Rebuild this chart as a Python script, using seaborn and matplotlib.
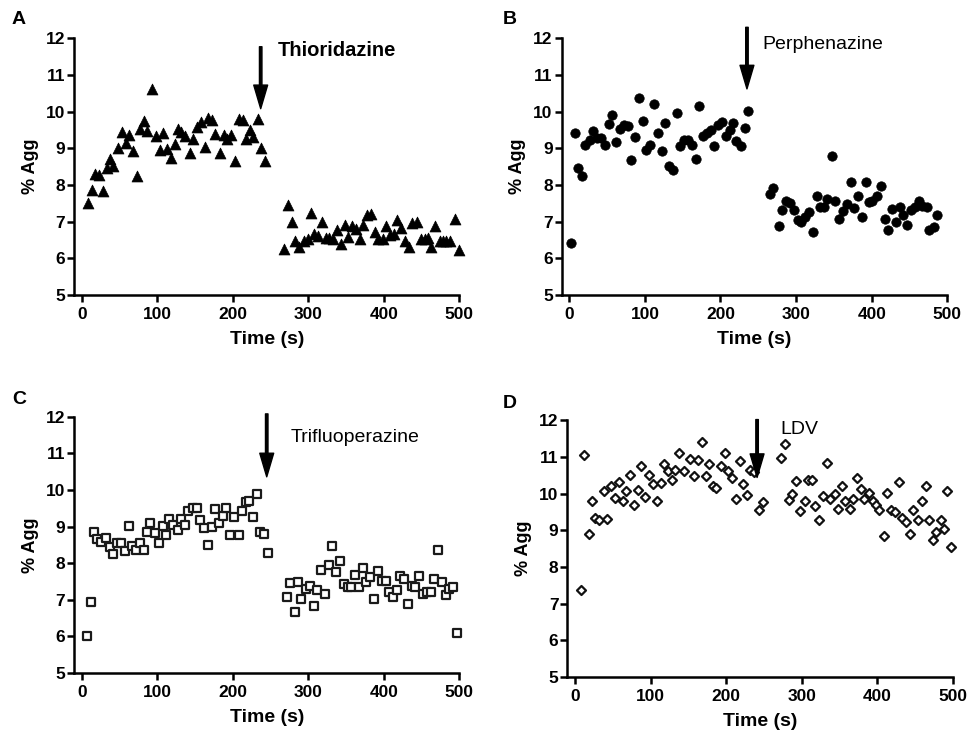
import matplotlib
matplotlib.use("Agg")
import matplotlib.pyplot as plt
import seaborn as sns

# --- data -----------------------------------------------------------------
a_time = [8, 13, 18, 23, 28, 33, 38, 42, 48, 53, 58, 63, 68, 73, 77, 83, 87, 93,
          98, 103, 108, 113, 118, 123, 127, 132, 137, 143, 148, 152, 158, 163,
          167, 173, 177, 183, 188, 193, 198, 203, 208, 213, 218, 223, 227, 234,
          238, 243,
          268, 273, 278, 283, 288, 294, 299, 303, 308, 313, 318, 324, 328, 333,
          338, 343, 348, 353, 358, 363, 368, 373, 378, 383, 388, 393, 399, 403,
          408, 413, 418, 423, 428, 433, 438, 444, 449, 454, 458, 463, 468, 474,
          479, 483, 488, 494, 499]
a_agg = [7.51, 7.85, 8.29, 8.28, 7.83, 8.47, 8.72, 8.52, 9.02, 9.45, 9.15, 9.37,
         8.93, 8.25, 9.54, 9.75, 9.47, 10.63, 9.34, 8.95, 9.43, 8.99, 8.73, 9.13,
         9.53, 9.45, 9.33, 8.87, 9.25, 9.58, 9.71, 9.04, 9.84, 9.76, 9.40, 8.88,
         9.35, 9.26, 9.35, 8.65, 9.81, 9.78, 9.25, 9.49, 9.31, 9.81, 9.00, 8.65,
         6.26, 7.46, 6.98, 6.48, 6.30, 6.46, 6.52, 7.23, 6.67, 6.61, 6.99, 6.55,
         6.55, 6.53, 6.78, 6.39, 6.91, 6.57, 6.87, 6.80, 6.53, 6.90, 7.19, 7.20,
         6.71, 6.53, 6.53, 6.89, 6.64, 6.66, 7.05, 6.82, 6.48, 6.32, 6.96, 7.00,
         6.52, 6.52, 6.55, 6.30, 6.87, 6.46, 6.48, 6.48, 6.46, 7.07, 6.23]

b_time = [2, 7, 12, 17, 21, 27, 32, 37, 42, 47, 52, 57, 62, 67, 72, 78, 82, 87,
          92, 97, 102, 107, 112, 117, 123, 127, 132, 137, 142, 147, 152, 157,
          162, 167, 172, 177, 182, 187, 192, 197, 202, 207, 212, 217, 221, 227,
          232, 237,
          266, 270, 277, 282, 287, 292, 297, 302, 307, 312, 317, 322, 327, 332,
          337, 341, 347, 352, 357, 362, 367, 372, 377, 382, 387, 392, 396, 401,
          407, 412, 417, 422, 427, 432, 437, 442, 447, 452, 457, 462, 467, 473,
          476, 482, 487]
b_agg = [6.42, 9.43, 8.45, 8.25, 9.08, 9.22, 9.47, 9.29, 9.29, 9.10, 9.65, 9.90,
         9.17, 9.52, 9.63, 9.60, 8.69, 9.31, 10.37, 9.74, 8.95, 9.08, 10.22, 9.43,
         8.92, 9.69, 8.51, 8.42, 9.95, 9.06, 9.22, 9.22, 9.08, 8.72, 10.15, 9.33,
         9.42, 9.51, 9.05, 9.63, 9.72, 9.33, 9.51, 9.69, 9.20, 9.05, 9.55, 10.02,
         7.76, 7.91, 6.87, 7.32, 7.55, 7.52, 7.32, 7.05, 7.00, 7.12, 7.26, 6.73,
         7.70, 7.39, 7.39, 7.61, 8.80, 7.57, 7.08, 7.29, 7.49, 8.08, 7.37, 7.69,
         7.12, 8.08, 7.53, 7.55, 7.69, 7.96, 7.08, 6.78, 7.34, 6.99, 7.39, 7.18,
         6.91, 7.32, 7.41, 7.55, 7.43, 7.41, 6.76, 6.85, 7.18]

c_time = [7, 12, 16, 20, 26, 32, 37, 42, 47, 52, 57, 62, 66, 72, 77, 83, 86, 91,
          97, 102, 107, 112, 116, 121, 127, 131, 137, 141, 147, 152, 157, 162,
          167, 173, 177, 182, 187, 191, 197, 201, 208, 212, 217, 222, 227, 232,
          236, 242, 247,
          272, 276, 282, 287, 291, 297, 302, 307, 312, 317, 322, 327, 332, 337,
          342, 347, 352, 356, 362, 367, 372, 377, 382, 387, 392, 397, 403, 407,
          412, 417, 422, 427, 432, 437, 442, 447, 452, 457, 462, 467, 472, 477,
          482, 487, 492, 497]
c_agg = [6.00, 6.93, 8.85, 8.65, 8.58, 8.69, 8.44, 8.25, 8.56, 8.56, 8.32, 9.03,
         8.47, 8.36, 8.55, 8.36, 8.86, 9.11, 8.82, 8.56, 9.03, 8.77, 9.20, 9.05,
         8.91, 9.20, 9.05, 9.44, 9.50, 9.50, 9.18, 8.95, 8.50, 9.00, 9.47, 9.09,
         9.30, 9.50, 8.77, 9.25, 8.77, 9.44, 9.68, 9.71, 9.27, 9.88, 8.86, 8.80,
         8.27,
         7.09, 7.46, 6.68, 7.48, 7.03, 7.29, 7.39, 6.82, 7.27, 7.82, 7.17, 7.96,
         8.47, 7.75, 8.07, 7.43, 7.36, 7.34, 7.68, 7.35, 7.86, 7.48, 7.62, 7.03,
         7.80, 7.52, 7.52, 7.20, 7.08, 7.26, 7.64, 7.57, 6.89, 7.37, 7.35, 7.64,
         7.17, 7.20, 7.20, 7.57, 8.35, 7.48, 7.14, 7.29, 7.35, 6.09]

d_time = [8, 12, 18, 23, 27, 32, 38, 43, 48, 53, 58, 63, 68, 73, 78, 83, 88, 93,
          98, 103, 108, 114, 118, 123, 129, 133, 138, 144, 152, 157, 163, 168,
          173, 178, 183, 187, 193, 198, 203, 208, 213, 218, 223, 228, 232, 237,
          243, 249,
          273, 278, 283, 287, 293, 298, 304, 309, 314, 318, 323, 328, 333, 338,
          344, 348, 353, 358, 364, 368, 373, 379, 383, 389, 395, 399, 403, 409,
          413, 418, 423, 429, 433, 438, 443, 448, 454, 459, 464, 469, 474, 478,
          484, 489, 493, 498]
d_agg = [7.38, 11.05, 8.90, 9.79, 9.34, 9.29, 10.08, 9.32, 10.20, 9.88, 10.32,
         9.79, 10.06, 10.52, 9.70, 10.11, 10.76, 9.91, 10.50, 10.25, 9.79, 10.29,
         10.81, 10.61, 10.38, 10.65, 11.10, 10.61, 10.95, 10.49, 10.91, 11.40,
         10.49, 10.82, 10.20, 10.15, 10.76, 11.10, 10.61, 10.43, 9.85, 10.90,
         10.27, 9.97, 10.65, 10.58, 9.56, 9.76,
         10.97, 11.36, 9.82, 10.00, 10.34, 9.52, 9.79, 10.36, 10.36, 9.65, 9.27,
         9.93, 10.84, 9.85, 10.00, 9.58, 10.20, 9.79, 9.58, 9.85, 10.43, 10.13,
         9.84, 10.02, 9.79, 9.70, 9.55, 8.85, 10.02, 9.55, 9.49, 10.31, 9.34,
         9.22, 8.91, 9.56, 9.29, 9.79, 10.20, 9.29, 8.73, 8.95, 9.27, 9.04,
         10.06, 8.55]

letters = ["A", "B", "C", "D"]
drugs = ["Thioridazine", "Perphenazine", "Trifluoperazine", "LDV"]
drug_bold = [True, False, False, False]
arrow_time = [237, 235, 245, 241]
arrow_tip = [10.08, 10.62, 10.36, 10.44]
arrow_top = [11.77, 12.3, 12.08, 12.02]
label_pos = [(259, 11.68), (256, 11.82), (276, 11.44), (272, 11.75)]

# --- styling ---------------------------------------------------------------
sns.set_style("ticks")
plt.rcParams["font.family"] = ["Liberation Sans", "DejaVu Sans"]
plt.rcParams["axes.linewidth"] = 1.8
for key in ["text.color", "axes.labelcolor", "xtick.color", "ytick.color",
            "axes.edgecolor"]:
    plt.rcParams[key] = "black"

fig = plt.figure(figsize=(9.71, 7.38), dpi=100)
rects = [[0.0764, 0.6003, 0.3966, 0.3478],
         [0.5785, 0.6003, 0.3971, 0.3478],
         [0.0764, 0.0881, 0.3966, 0.3471],
         [0.5844, 0.0827, 0.3968, 0.3478]]
letter_xy = [(0.0196, 0.973), (0.525, 0.973), (0.0196, 0.458), (0.525, 0.4526)]

series = [(a_time, a_agg), (b_time, b_agg), (c_time, c_agg), (d_time, d_agg)]
marker_kw = [
    dict(marker="^", s=62, color="black", edgecolor="black", linewidth=0.5),
    dict(marker="o", s=46, color="black", edgecolor="black", linewidth=0.5),
    dict(marker="s", s=30, facecolor="white", edgecolor="#1a1a1a", linewidth=1.6),
    dict(marker="D", s=21, facecolor="white", edgecolor="#111111", linewidth=1.6),
]

for i in range(4):
    ax = fig.add_axes(rects[i])
    t, y = series[i]
    sns.scatterplot(x=t, y=y, ax=ax, clip_on=False, zorder=3, **marker_kw[i])

    ax.set_xlim(-10, 500)
    ax.set_ylim(5, 12)
    ax.set_xticks(range(0, 501, 100))
    ax.set_yticks(range(5, 13))
    ax.tick_params(axis="both", direction="out", length=5, width=1.8,
                   labelsize=12.5, color="black", labelcolor="black")
    ax.tick_params(axis="x", pad=4)
    ax.tick_params(axis="y", pad=1.5)
    for lab in ax.get_xticklabels() + ax.get_yticklabels():
        lab.set_fontweight("bold")
    ax.set_xlabel("Time (s)", fontsize=14, fontweight="bold", labelpad=6)
    ax.set_ylabel("% Agg", fontsize=13, fontweight="bold", labelpad=5)
    sns.despine(ax=ax)

    ax.annotate("", xy=(arrow_time[i], arrow_tip[i]),
                xytext=(arrow_time[i], arrow_top[i]),
                arrowprops=dict(facecolor="black", edgecolor="black",
                                width=1.8, headwidth=10, headlength=17),
                annotation_clip=False)
    ax.text(label_pos[i][0], label_pos[i][1], drugs[i],
            fontsize=14.5 if drug_bold[i] else 14,
            fontweight="bold" if drug_bold[i] else "normal",
            ha="left", va="center", clip_on=False)

    fig.text(letter_xy[i][0], letter_xy[i][1], letters[i], fontsize=14,
             fontweight="bold", ha="center", va="center")

fig.savefig("out.png", dpi=100)
